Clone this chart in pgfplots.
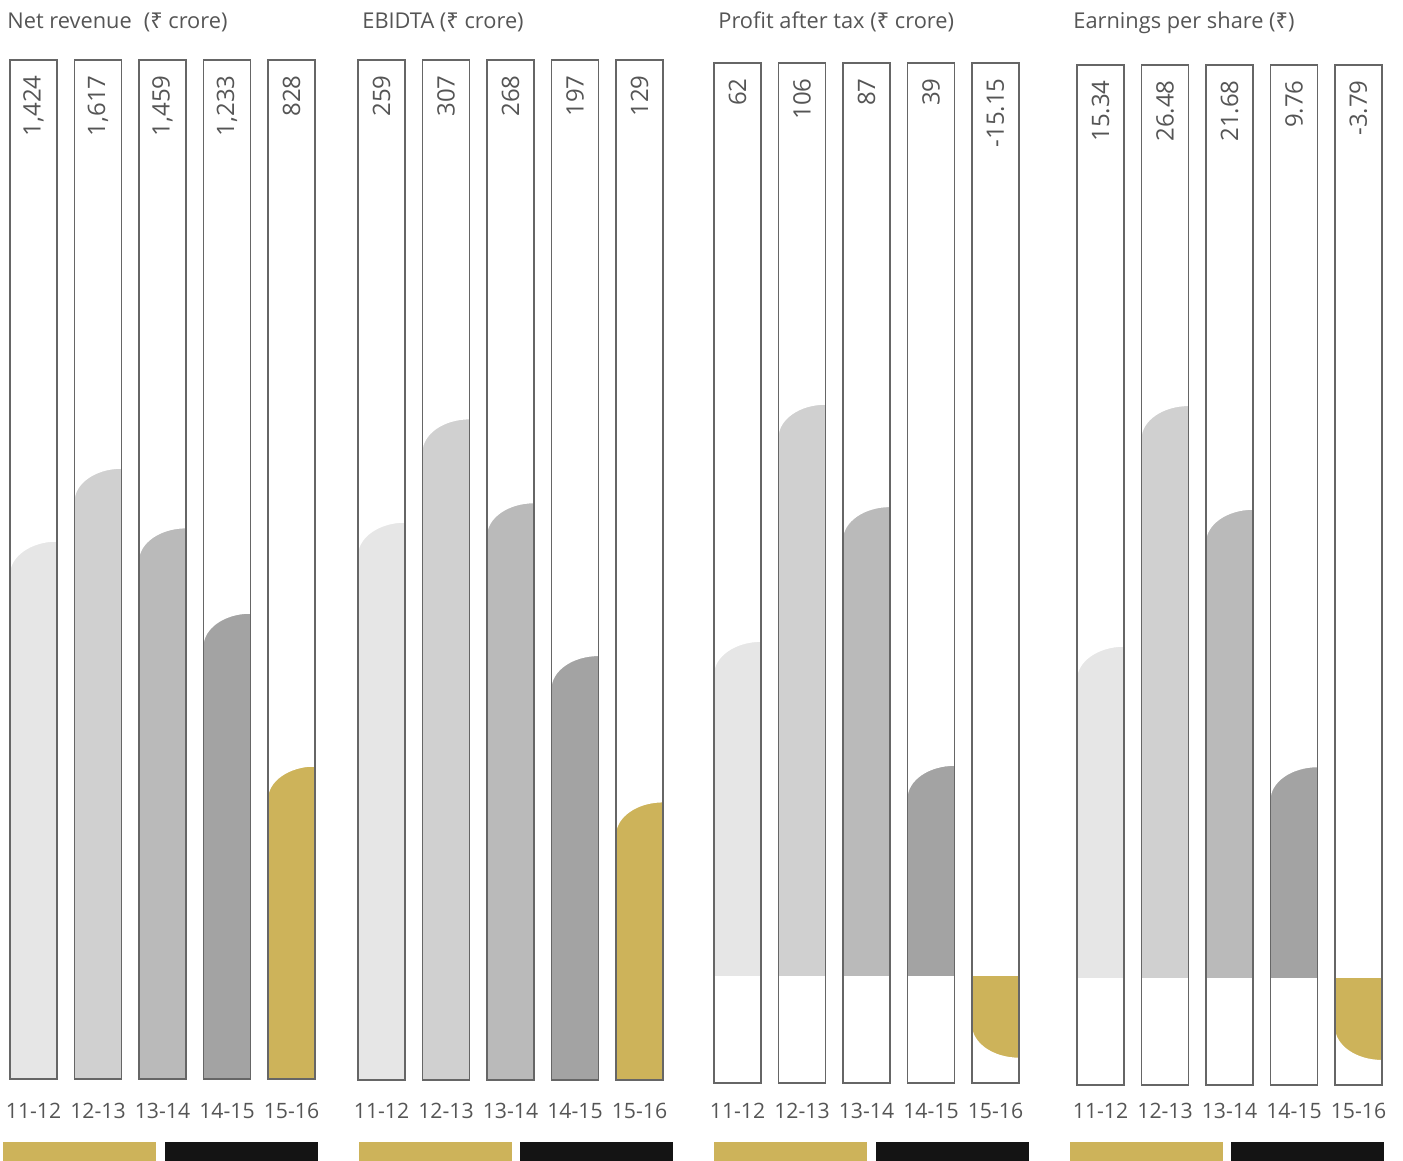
\documentclass[border=0pt]{standalone}
\usepackage{pgfplots}
\pgfplotsset{compat=1.18}
\usepackage{pgfplotstable}
\usepackage{fontspec}
\setmainfont{Open Sans}
\newfontfamily\rupeefont{Noto Sans}
\newcommand\Rs{{\rupeefont ₹}}

\definecolor{bar0}{HTML}{E6E6E6}
\definecolor{bar1}{HTML}{D0D0D0}
\definecolor{bar2}{HTML}{BABABA}
\definecolor{bar3}{HTML}{A3A3A3}
\definecolor{bar4}{HTML}{CDB35A}
\definecolor{framegray}{HTML}{666666}
\definecolor{txt}{HTML}{555555}

% white corner pieces that give the bars their rounded ends
\pgfdeclareplotmark{cuttop}{%
  \pgfpathmoveto{\pgfpoint{-12.5pt}{-16.5pt}}%
  \pgfpathlineto{\pgfpoint{-12.5pt}{0.6pt}}%
  \pgfpathlineto{\pgfpoint{11.75pt}{0.6pt}}%
  \pgfpathlineto{\pgfpoint{11.75pt}{0pt}}%
  \pgfpatharc{90}{180}{23.5pt and 16.5pt}%
  \pgfpathclose
  \pgfusepathqfill}
\pgfdeclareplotmark{cutbottom}{%
  \pgfpathmoveto{\pgfpoint{-12.5pt}{16.5pt}}%
  \pgfpathlineto{\pgfpoint{-12.5pt}{-0.6pt}}%
  \pgfpathlineto{\pgfpoint{11.75pt}{-0.6pt}}%
  \pgfpathlineto{\pgfpoint{11.75pt}{0pt}}%
  \pgfpatharc{270}{180}{23.5pt and 16.5pt}%
  \pgfpathclose
  \pgfusepathqfill}
% outline box hanging down from the top of the panel
\newlength\frameh
\pgfdeclareplotmark{frame}{%
  \pgfpathrectanglecorners{\pgfpoint{-11.75pt}{0pt}}{\pgfpoint{11.75pt}{-\frameh}}%
  \pgfusepathqstroke}

\pgfplotstableread{
x v lab
0 1424 {1,424}
1 1617 {1,617}
2 1459 {1,459}
3 1233 {1,233}
4 828 828
}\netrev
\pgfplotstableread{
x v lab
0 259 259
1 307 307
2 268 268
3 197 197
4 129 129
}\ebidta
\pgfplotstableread{
x v lab
0 62 62
1 106 106
2 87 87
3 39 39
4 -15.15 -15.15
}\pat
\pgfplotstableread{
x v lab
0 15.34 15.34
1 26.48 26.48
2 21.68 21.68
3 9.76 9.76
4 -3.79 -3.79
}\eps

\pgfplotsset{
  panel/.style={
    scale only axis, width=152.5pt, anchor=south west, clip=false,
    axis line style={draw=none}, major tick length=0pt,
    ytick=\empty, xtick={0,...,4},
    xticklabels={11-12,12-13,13-14,14-15,15-16},
    xmin=-0.365, xmax=4.365,
    xticklabel style={anchor=north, inner sep=0pt,
      font=\fontsize{10.6}{12}\selectfont, text=txt},
  },
}

% bars, rounded ends, frames and value labels of one panel
% #1 table, #2 ymax, #3 has negative bar (1/0)
\newcommand\panelbody[3]{%
  \pgfplotsinvokeforeach{0,...,4}{%
    \addplot[ybar, bar width=23.5pt, bar shift=0pt, draw=none, fill=bar##1,
      restrict expr to domain={\coordindex}{##1:##1}] table[x=x, y=v] {#1};
  }
  \addplot[only marks, mark=cuttop, color=white, mark options={fill=white},
    restrict y to domain=0:100000] table[x=x, y=v] {#1};
  \ifnum#3=1
  \addplot[only marks, mark=cutbottom, color=white, mark options={fill=white},
    restrict y to domain=-100000:0] table[x=x, y=v] {#1};
  \fi
  \addplot[only marks, mark=frame, color=framegray,
    mark options={draw=framegray, line width=0.8pt}]
    table[x=x, y expr=#2] {#1};
  \addplot[draw=none, mark=none, nodes near coords, point meta=explicit symbolic,
    nodes near coords style={rotate=90, anchor=east, inner xsep=7.5pt,
      inner ysep=0pt, font=\fontsize{12}{14}\selectfont, text=txt}]
    table[x=x, y expr=#2, meta=lab] {#1};
}

\begin{document}
\begin{tikzpicture}
\path[use as bounding box] (0,0) rectangle (701.5pt,-580.5pt);

\setlength\frameh{509.5pt}
\begin{axis}[panel, at={(5pt,-539.5pt)}, height=509.5pt, ymin=0, ymax=2700,
  xticklabel style={yshift=-12pt}]
  \panelbody{\netrev}{2700}{0}
\end{axis}

\setlength\frameh{510pt}
\begin{axis}[panel, at={(179pt,-540pt)}, height=510pt, ymin=0, ymax=474,
  xticklabel style={yshift=-11.5pt}]
  \panelbody{\ebidta}{474}{0}
\end{axis}

\begin{axis}[panel, at={(357pt,-541.5pt)}, height=510pt, ymin=-19.85, ymax=169.4,
  xticklabel style={yshift=-10pt}]
  \panelbody{\pat}{169.4}{1}
\end{axis}

\begin{axis}[panel, at={(538.5pt,-542.5pt)}, height=510pt, ymin=-4.95, ymax=42.27,
  xticklabel style={yshift=-9pt}]
  \panelbody{\eps}{42.27}{1}
\end{axis}

\begin{scope}[every node/.style={anchor=base west, inner sep=0pt,
    font=\fontsize{10.9}{12}\selectfont, text=txt}]
  \node at (3.5pt,-14.5pt) {Net revenue\hspace{0.55em}(\Rs{} crore)};
  \node at (181pt,-14.5pt) {EBIDTA (\Rs{} crore)};
  \node at (359pt,-14.5pt) {Profit after tax (\Rs{} crore)};
  \node at (536.5pt,-14.5pt) {Earnings per share (\Rs)};
\end{scope}

\fill[bar4] (1.5pt,-571pt) rectangle (78pt,-580.5pt);
\fill[black!92] (82.5pt,-571pt) rectangle (159pt,-580.5pt);
\fill[bar4] (179.5pt,-571pt) rectangle (256pt,-580.5pt);
\fill[black!92] (260pt,-571pt) rectangle (336.5pt,-580.5pt);
\fill[bar4] (357pt,-571pt) rectangle (433.5pt,-580.5pt);
\fill[black!92] (438pt,-571pt) rectangle (514.5pt,-580.5pt);
\fill[bar4] (535pt,-571pt) rectangle (611.5pt,-580.5pt);
\fill[black!92] (615.5pt,-571pt) rectangle (692pt,-580.5pt);
\end{tikzpicture}
\end{document}
